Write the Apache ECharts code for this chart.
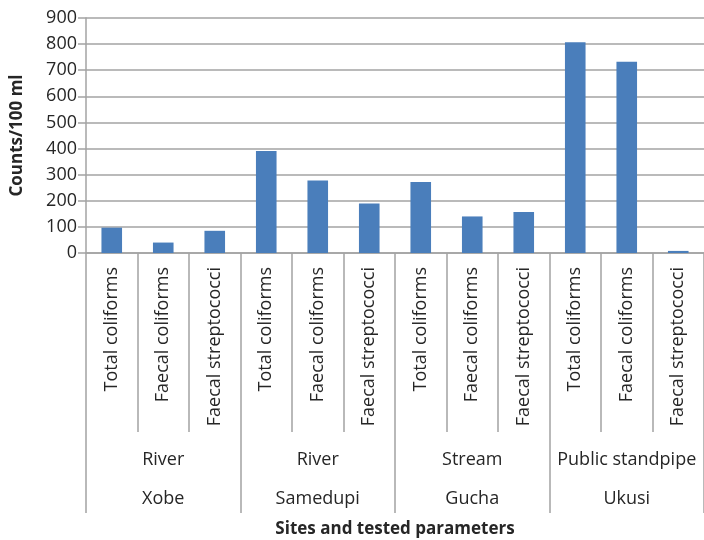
<!DOCTYPE html>
<html>
<head>
<meta charset="utf-8">
<script src="https://cdn.jsdelivr.net/npm/echarts@6/dist/echarts.min.js"></script>
<style>
  html, body { margin: 0; padding: 0; background: #fff; }
  #chart { width: 704px; height: 540px; }
</style>
</head>
<body>
<div id="chart"></div>
<script>
// Tested parameters, one bar each, grouped by source type and site
const parameters = [
  'Total coliforms', 'Faecal coliforms', 'Faecal streptococci',
  'Total coliforms', 'Faecal coliforms', 'Faecal streptococci',
  'Total coliforms', 'Faecal coliforms', 'Faecal streptococci',
  'Total coliforms', 'Faecal coliforms', 'Faecal streptococci'
];
const sourceTypes = ['River', 'River', 'Stream', 'Public standpipe'];
const sites = ['Xobe', 'Samedupi', 'Gucha', 'Ukusi'];
const counts = [97, 40, 85, 391, 278, 190, 272, 140, 157, 807, 732, 8];
const yTicks = { min: 0, max: 900, interval: 100 };

const FONT = '"Open Sans", "Liberation Sans", sans-serif';
const TEXT = '#262626';
const GRID = '#a3a3a3';

const chart = echarts.init(document.getElementById('chart'), null, { renderer: 'canvas' });

const groupAxisBase = {
  type: 'category',
  gridIndex: 0,
  position: 'bottom',
  boundaryGap: true,
  axisLine: { show: false },
  splitLine: { show: false }
};

chart.setOption({
  animation: false,
  backgroundColor: '#ffffff',
  textStyle: { fontFamily: FONT },
  grid: { left: 86, right: -5, top: 18, bottom: 287, containLabel: false },
  xAxis: [
    {
      type: 'category',
      position: 'bottom',
      data: parameters,
      boundaryGap: true,
      axisLine: { show: true, lineStyle: { color: GRID, width: 1.5 } },
      axisTick: { show: true, interval: 0, length: 179, lineStyle: { color: GRID, width: 1.5 } },
      axisLabel: {
        interval: 0, rotate: 90, margin: 14,
        fontFamily: FONT, fontSize: 18, color: TEXT
      },
      splitLine: { show: false }
    },
    Object.assign({}, groupAxisBase, {
      data: sourceTypes,
      axisTick: { show: true, interval: 0, length: 260, lineStyle: { color: GRID, width: 1.5 } },
      axisLabel: { interval: 0, margin: 198, fontFamily: FONT, fontSize: 18, color: TEXT }
    }),
    Object.assign({}, groupAxisBase, {
      data: sites,
      axisTick: { show: false },
      axisLabel: { interval: 0, margin: 237, fontFamily: FONT, fontSize: 18, color: TEXT },
      name: 'Sites and tested parameters',
      nameLocation: 'middle',
      nameGap: 268,
      nameTextStyle: { fontFamily: FONT, fontSize: 17, fontWeight: 'bold', color: TEXT }
    })
  ],
  yAxis: {
    type: 'value',
    min: yTicks.min,
    max: yTicks.max,
    interval: yTicks.interval,
    name: 'Counts/100 ml',
    nameLocation: 'middle',
    nameGap: 60,
    nameRotate: 90,
    nameTextStyle: { fontFamily: FONT, fontSize: 17, fontWeight: 'bold', color: TEXT },
    axisLine: { show: true, lineStyle: { color: GRID, width: 1.5 } },
    axisTick: { show: true, length: 8, lineStyle: { color: GRID, width: 1.5 } },
    axisLabel: { margin: 9, fontFamily: FONT, fontSize: 18, color: TEXT },
    splitLine: { show: true, lineStyle: { color: GRID, width: 1.5 } }
  },
  series: [{
    type: 'bar',
    xAxisIndex: 0,
    yAxisIndex: 0,
    data: counts,
    barWidth: '40%',
    itemStyle: { color: '#4a7ebb' }
  }]
});
</script>
</body>
</html>
